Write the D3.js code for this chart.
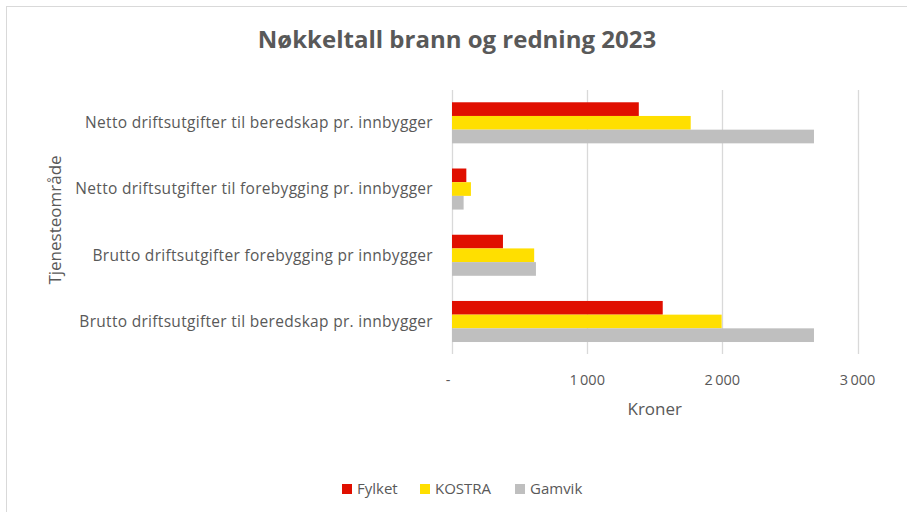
<!DOCTYPE html>
<html>
<head>
<meta charset="utf-8">
<script src="https://cdn.jsdelivr.net/npm/d3@7"></script>
<style>
  html, body { margin: 0; padding: 0; background: #fff; }
  svg { display: block; font-family: "Open Sans", "Liberation Sans", sans-serif; }
</style>
</head>
<body>
<div id="chart"></div>
<script>
// Categories listed top to bottom as shown
const categories = [
  "Netto driftsutgifter til beredskap pr. innbygger",
  "Netto driftsutgifter til forebygging pr. innbygger",
  "Brutto driftsutgifter forebygging pr innbygger",
  "Brutto driftsutgifter til beredskap pr. innbygger"
];
const seriesNames = ["Fylket", "KOSTRA", "Gamvik"];
const fylket = [1382, 106, 377, 1559];
const kostra = [1766, 140, 608, 1995];
const gamvik = [2678, 86, 621, 2678];
const xTicks = [0, 1000, 2000, 3000];
const colors = ["#e00f00", "#ffdf00", "#bfbfbf"];

const width = 907, height = 512;
const margin = { top: 90, right: 50, bottom: 158, left: 452 };

const svg = d3.select("#chart").append("svg")
  .attr("width", width)
  .attr("height", height);

// chart frame
svg.append("rect")
  .attr("x", 6.5).attr("y", 6.5)
  .attr("width", width + 10).attr("height", height + 10)
  .attr("fill", "#fff")
  .attr("stroke", "#d9d9d9")
  .attr("stroke-width", 1);

const x = d3.scaleLinear()
  .domain([0, 3000])
  .range([margin.left, 857.5]);

const y = d3.scaleBand()
  .domain(categories)
  .range([89.7, 354.6])
  .paddingInner(0.38)
  .paddingOuter(0.19);

const ySub = d3.scaleBand()
  .domain(seriesNames)
  .range([0, y.bandwidth()]);

const rows = categories.map((c, i) => ({
  category: c,
  values: [fylket[i], kostra[i], gamvik[i]]
}));

// gridlines
svg.append("g")
  .selectAll("line")
  .data(xTicks)
  .join("line")
  .attr("x1", d => Math.round(x(d)) + 0.5)
  .attr("x2", d => Math.round(x(d)) + 0.5)
  .attr("y1", 90)
  .attr("y2", 354)
  .attr("stroke", "#d9d9d9")
  .attr("stroke-width", 1.3);

// bars
const groups = svg.append("g")
  .selectAll("g")
  .data(rows)
  .join("g")
  .attr("transform", d => `translate(0,${y(d.category)})`);

groups.selectAll("rect")
  .data(d => d.values.map((v, i) => ({ key: seriesNames[i], value: v, color: colors[i] })))
  .join("rect")
  .attr("x", x(0))
  .attr("y", d => ySub(d.key))
  .attr("width", d => x(d.value) - x(0))
  .attr("height", ySub.bandwidth())
  .attr("fill", d => d.color);

// category labels
svg.append("g")
  .selectAll("text")
  .data(categories)
  .join("text")
  .attr("x", 433)
  .attr("y", d => y(d) + y.bandwidth() / 2)
  .attr("dy", "0.35em")
  .attr("text-anchor", "end")
  .attr("font-size", 15.5)
  .attr("letter-spacing", 0.3)
  .attr("fill", "#595959")
  .text(d => d);

// x tick labels
const fmt = d => d === 0 ? "-" : d3.format(",")(d).replace(/,/g, "\u2009");
svg.append("g")
  .selectAll("text")
  .data(xTicks)
  .join("text")
  .attr("x", d => d === 0 ? x(d) - 4 : x(d))
  .attr("y", 380)
  .attr("dy", "0.35em")
  .attr("text-anchor", "middle")
  .attr("font-size", 14.5)
  .attr("fill", "#595959")
  .text(fmt);

// axis titles
svg.append("text")
  .attr("x", (x.range()[0] + x.range()[1]) / 2)
  .attr("y", 409)
  .attr("dy", "0.35em")
  .attr("text-anchor", "middle")
  .attr("font-size", 17)
  .attr("fill", "#595959")
  .text("Kroner");

svg.append("text")
  .attr("transform", "translate(55,220) rotate(-90)")
  .attr("dy", "0.35em")
  .attr("text-anchor", "middle")
  .attr("font-size", 17)
  .attr("fill", "#595959")
  .text("Tjenesteområde");

// title
svg.append("text")
  .attr("x", 457)
  .attr("y", 40)
  .attr("dy", "0.35em")
  .attr("text-anchor", "middle")
  .attr("font-size", 24)
  .attr("font-weight", "bold")
  .attr("fill", "#595959")
  .text("Nøkkeltall brann og redning 2023");

// legend
const legendX = [342, 420, 515];
const legend = svg.append("g")
  .selectAll("g")
  .data(seriesNames)
  .join("g")
  .attr("transform", (d, i) => `translate(${legendX[i]},489)`);

legend.append("rect")
  .attr("x", 0).attr("y", -5)
  .attr("width", 10).attr("height", 10)
  .attr("fill", (d, i) => colors[i]);

legend.append("text")
  .attr("x", 15)
  .attr("dy", "0.35em")
  .attr("font-size", 15)
  .attr("fill", "#595959")
  .text(d => d);
</script>
</body>
</html>
